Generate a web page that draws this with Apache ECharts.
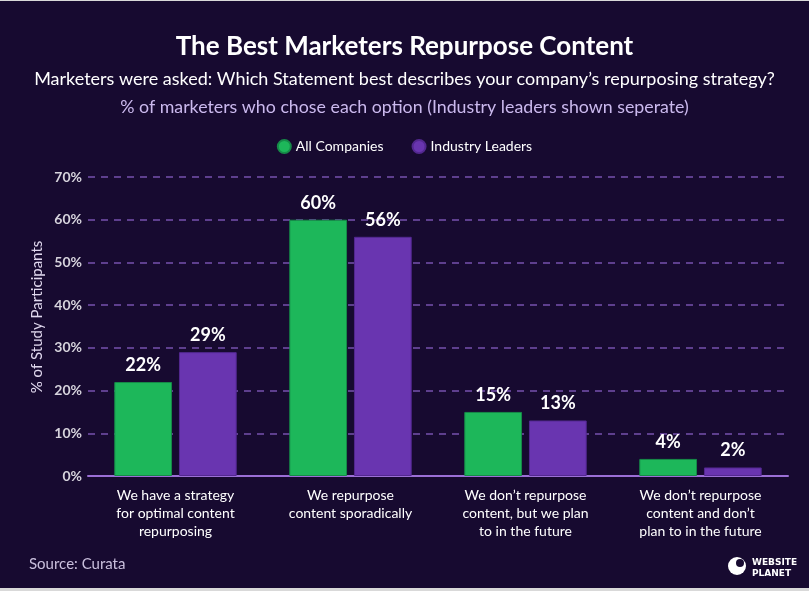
<!DOCTYPE html>
<html>
<head>
<meta charset="utf-8">
<script src="https://cdn.jsdelivr.net/npm/echarts@6/dist/echarts.min.js"></script>
<style>
html,body{margin:0;padding:0;background:#d9d9d9;}
#c{position:absolute;left:0;top:1px;width:809px;height:587px;background:#170a30;}
</style>
</head>
<body>
<div id="c"></div>
<script>
const categories = [
  "We have a strategy\nfor optimal content\nrepurposing",
  "We repurpose\ncontent sporadically",
  "We don\u2019t repurpose\ncontent, but we plan\nto in the future",
  "We don\u2019t repurpose\ncontent and don\u2019t\nplan to in the future"
];
const allCompanies = [22, 60, 15, 4];
const industryLeaders = [29, 56, 13, 2];
const yTicks = [0, 10, 20, 30, 40, 50, 60, 70];

const font = 'Lato, "Open Sans", sans-serif';
const chart = echarts.init(document.getElementById('c'));
chart.setOption({
  backgroundColor: '#170a30',
  textStyle: {fontFamily: font},
  title: [
    {text: 'The Best Marketers Repurpose Content', left: 'center', top: 28,
     textStyle: {color: '#ffffff', fontSize: 26, fontWeight: 'bold', fontFamily: font}},
    {text: 'Marketers were asked: Which Statement best describes your company\u2019s repurposing strategy?', left: 'center', top: 64,
     textStyle: {color: '#ffffff', fontSize: 18, fontWeight: 'normal', fontFamily: font}},
    {text: '% of marketers who chose each option (Industry leaders shown seperate)', left: 'center', top: 92,
     textStyle: {color: '#cbb9ee', fontSize: 17.8, fontWeight: 'normal', fontFamily: font}},
    {text: 'Source: Curata', left: 24, top: 551,
     textStyle: {color: '#c9bfdc', fontSize: 15, fontWeight: 'normal', fontFamily: font}}
  ],
  legend: {
    top: 133, left: 'center', icon: 'circle', itemWidth: 13, itemHeight: 13, itemGap: 28,
    textStyle: {color: '#ffffff', fontSize: 14, fontFamily: font},
    data: ['All Companies', 'Industry Leaders']
  },
  grid: {left: 88, right: 21, top: 176, bottom: 112, containLabel: false},
  xAxis: {
    type: 'category', data: categories,
    axisLine: {lineStyle: {color: '#9b6fd6', width: 2}},
    axisTick: {show: false},
    axisLabel: {color: '#ffffff', fontSize: 14, lineHeight: 18, margin: 10, fontFamily: font, interval: 0}
  },
  yAxis: {
    type: 'value', min: yTicks[0], max: yTicks[yTicks.length - 1], interval: 10,
    axisLine: {show: false}, axisTick: {show: false},
    axisLabel: {color: '#d6d3dc', fontSize: 14, fontWeight: 'bold', margin: 6, formatter: '{value}%', fontFamily: font},
    splitLine: {lineStyle: {color: '#5e3f8e', type: [7, 6], width: 2}}
  },
  series: [
    {name: 'All Companies', type: 'bar', data: allCompanies, barWidth: '33%', barGap: '12%',
     itemStyle: {color: '#1db75a', borderColor: '#168a48', borderWidth: 1},
     label: {show: true, position: 'top', color: '#ffffff', fontSize: 18, fontWeight: 'bold', distance: 8, formatter: '{c}%', fontFamily: font}},
    {name: 'Industry Leaders', type: 'bar', data: industryLeaders, barWidth: '33%',
     itemStyle: {color: '#6935b0', borderColor: '#532890', borderWidth: 1},
     label: {show: true, position: 'top', color: '#ffffff', fontSize: 18, fontWeight: 'bold', distance: 8, formatter: '{c}%', fontFamily: font}}
  ],
  graphic: [
    {type: 'text', x: 37, y: 316, rotation: Math.PI / 2,
     style: {text: '% of Study Participants', fill: '#e0d8ee', font: '15px Lato, sans-serif', textAlign: 'center', textVerticalAlign: 'middle'}},
    {type: 'circle', shape: {cx: 737, cy: 565, r: 9}, style: {fill: '#ffffff'}},
    {type: 'circle', shape: {cx: 740, cy: 562, r: 4}, style: {fill: '#170a30'}},
    {type: 'text', left: 752, top: 556, style: {text: 'WEBSITE\nPLANET', fill: '#ffffff', font: 'bold 9px "DejaVu Sans", sans-serif', lineHeight: 11}}
  ]
});
</script>
</body>
</html>
